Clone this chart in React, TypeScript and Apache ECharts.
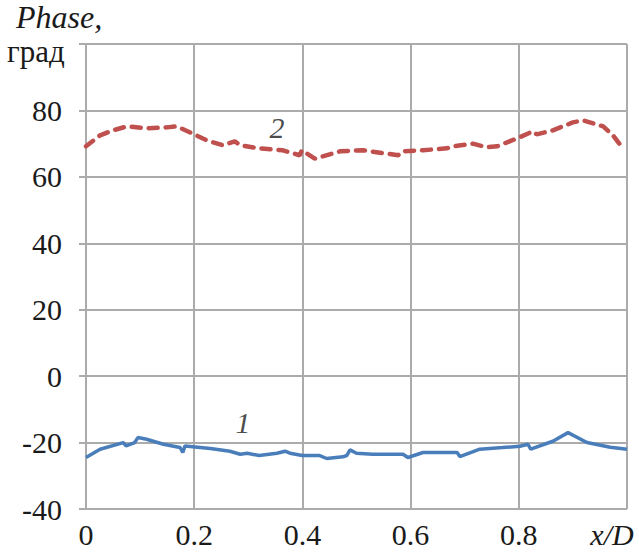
import React, { useEffect, useRef } from "react";
import * as echarts from "echarts";

// Relative position along the diameter
const xTicks = [0, 0.2, 0.4, 0.6, 0.8, 1.0];
const yTicks = [-40, -20, 0, 20, 40, 60, 80, 100];

// Curve 1: phase, degrees
const phase1X = [0, 0.026, 0.069, 0.074, 0.09, 0.096, 0.112, 0.143, 0.174, 0.179, 0.183, 0.23, 0.266, 0.285, 0.298, 0.32, 0.353, 0.368, 0.377, 0.4, 0.432, 0.445, 0.475, 0.482, 0.488, 0.5, 0.53, 0.586, 0.595, 0.623, 0.686, 0.691, 0.728, 0.77, 0.802, 0.817, 0.822, 0.863, 0.891, 0.926, 0.969, 1.0];
const phase1Y = [-24.5, -22, -20, -21, -20, -18.5, -19, -20.5, -21.5, -23, -21, -21.8, -22.6, -23.5, -23.2, -23.9, -23.2, -22.6, -23.2, -23.9, -23.9, -24.8, -24.3, -23.9, -22.2, -23.2, -23.5, -23.5, -24.5, -23, -23, -24.2, -22, -21.5, -21.1, -20.5, -22, -19.6, -17, -20, -21.4, -22];

// Curve 2: phase, degrees
const phase2X = [0, 0.026, 0.05, 0.076, 0.112, 0.15, 0.168, 0.196, 0.223, 0.253, 0.275, 0.285, 0.32, 0.364, 0.395, 0.399, 0.423, 0.432, 0.47, 0.512, 0.556, 0.577, 0.585, 0.623, 0.667, 0.679, 0.715, 0.741, 0.76, 0.797, 0.826, 0.833, 0.863, 0.9, 0.919, 0.956, 0.974, 0.991];
const phase2Y = [69.2, 72.5, 74, 75.2, 74.6, 74.9, 75.2, 73.1, 71, 69.5, 70.7, 69.5, 68.6, 68, 66.5, 68, 65.5, 65.9, 67.7, 68, 67, 66.5, 67.7, 68, 68.6, 69.2, 70, 68.9, 69.2, 71.6, 73.7, 72.8, 74, 76.4, 77, 75.2, 72.5, 68.9];

// Curve numbers and where they sit
const curveLabels = ["1", "2"];
const curveLabelX = [0.29, 0.353];
const curveLabelY = [-14, 75];

const SERIF = "'Liberation Serif', 'Times New Roman', serif";
const GRID_COLOR = "#ababab";
const TEXT_COLOR = "#1a1a1a";

export default function App() {
  const ref = useRef<HTMLDivElement>(null);

  useEffect(() => {
    if (!ref.current) return;
    const chart = echarts.init(ref.current, null, { renderer: "svg" });

    const pairs = (xs: number[], ys: number[]) => xs.map((x, i) => [x, ys[i]]);

    chart.setOption({
      animation: false,
      backgroundColor: "#ffffff",
      grid: { left: 86, right: 12, top: 44, bottom: 47, outerBoundsMode: "none", containLabel: false },
      xAxis: {
        type: "value",
        min: 0,
        max: 1,
        interval: 0.2,
        axisLine: { show: true, lineStyle: { color: GRID_COLOR, width: 2 } },
        axisTick: { show: true, length: 7, lineStyle: { color: GRID_COLOR, width: 2 } },
        splitLine: { show: true, lineStyle: { color: GRID_COLOR, width: 2 } },
        axisLabel: {
          margin: 10,
          fontFamily: SERIF,
          fontSize: 30,
          color: TEXT_COLOR,
          formatter: (v: number) => {
            const t = xTicks.find((k) => Math.abs(k - v) < 1e-6);
            if (t === undefined) return "";
            if (t === 1) return "{it|x/D}";
            return t === 0 ? "0" : t.toFixed(1);
          },
          rich: {
            it: { fontFamily: SERIF, fontStyle: "italic", fontSize: 30, color: TEXT_COLOR, padding: [0, 0, 0, -30] },
          },
        },
      },
      yAxis: {
        type: "value",
        min: -40,
        max: 100,
        interval: 20,
        axisLine: { show: true, lineStyle: { color: GRID_COLOR, width: 2 } },
        axisTick: { show: true, length: 7, lineStyle: { color: GRID_COLOR, width: 2 } },
        splitLine: { show: true, lineStyle: { color: GRID_COLOR, width: 2 } },
        axisLabel: {
          margin: 24,
          fontFamily: SERIF,
          fontSize: 30,
          color: TEXT_COLOR,
          formatter: (v: number) => {
            const t = yTicks.find((k) => Math.abs(k - v) < 1e-6);
            if (t === undefined || t === 100) return "";
            return String(t);
          },
        },
      },
      graphic: [
        {
          type: "text",
          left: 16,
          top: 1,
          style: { text: "Phase,", font: `italic 32px ${SERIF}`, fill: TEXT_COLOR },
        },
        {
          type: "text",
          left: 7,
          top: 36,
          style: { text: "град", font: `31px ${SERIF}`, fill: TEXT_COLOR },
        },
      ],
      series: [
        {
          type: "line",
          data: pairs(phase1X, phase1Y),
          showSymbol: false,
          lineStyle: { color: "#4a7ebb", width: 3.5 },
        },
        {
          type: "line",
          data: pairs(phase2X, phase2Y),
          showSymbol: false,
          lineStyle: { color: "#c0504d", width: 4.5, type: [9, 8], cap: "round" },
        },
        {
          type: "scatter",
          symbolSize: 0,
          silent: true,
          data: curveLabels.map((t, i) => ({ value: [curveLabelX[i], curveLabelY[i]], name: t })),
          label: {
            show: true,
            position: "inside",
            formatter: (p: any) => p.name,
            fontFamily: SERIF,
            fontStyle: "italic",
            fontSize: 30,
            color: TEXT_COLOR,
          },
        },
      ],
    });

    return () => chart.dispose();
  }, []);

  return <div ref={ref} style={{ width: 639, height: 556, position: "absolute", left: 0, top: 0 }} />;
}
